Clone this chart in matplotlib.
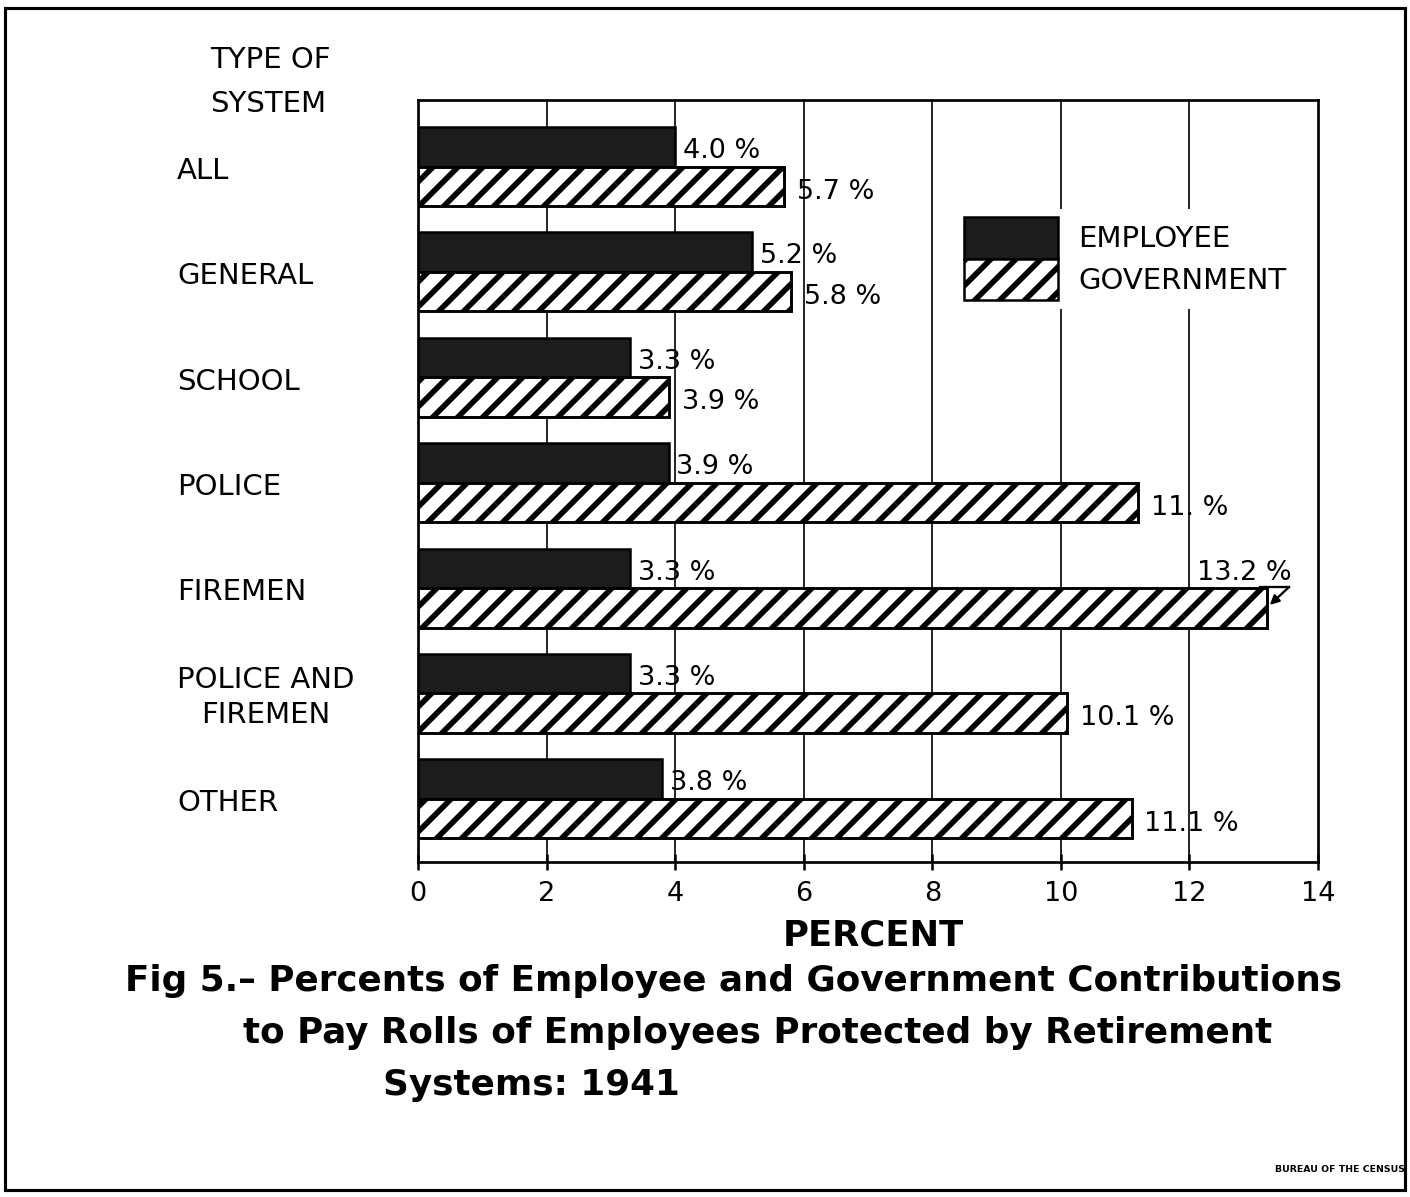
import numpy as np
import matplotlib.pyplot as plt
from matplotlib.patches import Patch, Rectangle
import matplotlib.transforms as mtransforms

# data ========================================================================
categories = ['ALL', 'GENERAL', 'SCHOOL', 'POLICE', 'FIREMEN',
              'POLICE AND\nFIREMEN', 'OTHER']
employee = [4.0, 5.2, 3.3, 3.9, 3.3, 3.3, 3.8]
government = [5.7, 5.8, 3.9, 11.2, 13.2, 10.1, 11.1]
employee_labels = ['4.0 %', '5.2 %', '3.3 %', '3.9 %', '3.3 %', '3.3 %', '3.8 %']
government_labels = ['5.7 %', '5.8 %', '3.9 %', '11. %', '13.2 %', '10.1 %', '11.1 %']
xticks = [0, 2, 4, 6, 8, 10, 12, 14]

title_lines = ['Fig 5.\u2013 Percents of Employee and Government Contributions',
               'to Pay Rolls of Employees Protected by Retirement',
               'Systems: 1941']

plt.rcParams['font.family'] = ['DejaVu Sans']
plt.rcParams['hatch.linewidth'] = 2.7
plt.rcParams['hatch.color'] = 'black'

W, H = 1410, 1197
fig = plt.figure(figsize=(9.4, 7.98), dpi=150)
ax = fig.add_axes([418 / W, 1 - 862 / H, 900 / W, 762 / H])

y = np.arange(len(categories))
h = 0.375
dark = '#1c1c1c'

ax.barh(y - h / 2, employee, height=h, color=dark, edgecolor='black', lw=1.2, zorder=3)
ax.barh(y + h / 2, government, height=h, color='white', edgecolor='black',
        hatch='//', lw=1.4, zorder=3)

ax.set_xlim(0, 14)
ax.set_ylim(6.6, -0.632)

# grid
for x in xticks[1:-1]:
    ax.axvline(x, color='black', lw=0.8, zorder=1)

for s in ax.spines.values():
    s.set_linewidth(1.3)
ax.set_yticks([])
ax.set_xticks(xticks)
ax.set_xticklabels([str(t) for t in xticks])
ax.tick_params(axis='x', direction='inout', length=8, width=1.2, labelsize=13, pad=5)

# value labels
for i in range(len(categories)):
    ax.text(employee[i] + 0.12, y[i] - h / 2 + 0.04, employee_labels[i],
            fontsize=13, va='center', ha='left', zorder=4)
    if government[i] > 13:
        ax.text(government[i] - 0.35, y[i] - h / 2 + 0.04, government_labels[i],
                fontsize=13, va='center', ha='center', zorder=4)
        ax.plot([government[i] - 0.1, government[i] + 0.35], [y[i] - 0.01, y[i] - 0.01],
                color='black', lw=1.1, zorder=4)
        ax.annotate('', xy=(government[i] + 0.05, y[i] + 0.16),
                    xytext=(government[i] + 0.35, y[i] - 0.01),
                    arrowprops=dict(arrowstyle='-|>', lw=1.1, color='black',
                                    shrinkA=0, shrinkB=0, mutation_scale=9))
    else:
        ax.text(government[i] + 0.2, y[i] + h / 2 + 0.05, government_labels[i],
                fontsize=13, va='center', ha='left', zorder=4)

# category labels
trans = mtransforms.blended_transform_factory(fig.transFigure, ax.transData)
for i, c in enumerate(categories):
    ax.text(177 / W, y[i] + 0.04, c, transform=trans, fontsize=14, ha='left',
            va='center', multialignment='center', linespacing=1.35)

fig.text(210 / W, 1 - 68 / H, 'TYPE OF', fontsize=14, ha='left', va='baseline')
fig.text(210 / W, 1 - 112 / H, 'SYSTEM', fontsize=14, ha='left', va='baseline')

# legend
handles = [Patch(facecolor=dark, edgecolor='black', lw=1.2),
           Patch(facecolor='white', edgecolor='black', hatch='//', lw=1.2)]
leg = ax.legend(handles, ['EMPLOYEE', 'GOVERNMENT'], loc='upper left',
                bbox_to_anchor=(941 / W, 1 - 194 / H), bbox_transform=fig.transFigure,
                fontsize=14, handlelength=3.2, handleheight=1.8, labelspacing=0,
                handletextpad=0.7, borderpad=0.3, frameon=True, fancybox=False)
leg.get_frame().set_facecolor('white')
leg.get_frame().set_edgecolor('none')
leg.get_frame().set_alpha(1)
leg.set_zorder(5)

# axis title + figure title
fig.text(873 / W, 1 - 946 / H, 'PERCENT', fontsize=17, fontweight='bold',
         ha='center', va='baseline')
fig.text(125 / W, 1 - 991 / H, title_lines[0], fontsize=17.2, fontweight='bold',
         ha='left', va='baseline')
fig.text(243 / W, 1 - 1043 / H, title_lines[1], fontsize=17.2, fontweight='bold',
         ha='left', va='baseline')
fig.text(383 / W, 1 - 1095 / H, title_lines[2], fontsize=17.2, fontweight='bold',
         ha='left', va='baseline')

fig.text(1405 / W, 1 - 1172 / H, 'BUREAU OF THE CENSUS', fontsize=4.5,
         fontweight='bold', ha='right', va='baseline')

# outer frame
fig.patches.append(Rectangle((5 / W, 1 - 1190 / H), 1400 / W, 1182 / H,
                             transform=fig.transFigure, fill=False,
                             edgecolor='black', lw=1.5))

fig.savefig('out.png', dpi=150)
